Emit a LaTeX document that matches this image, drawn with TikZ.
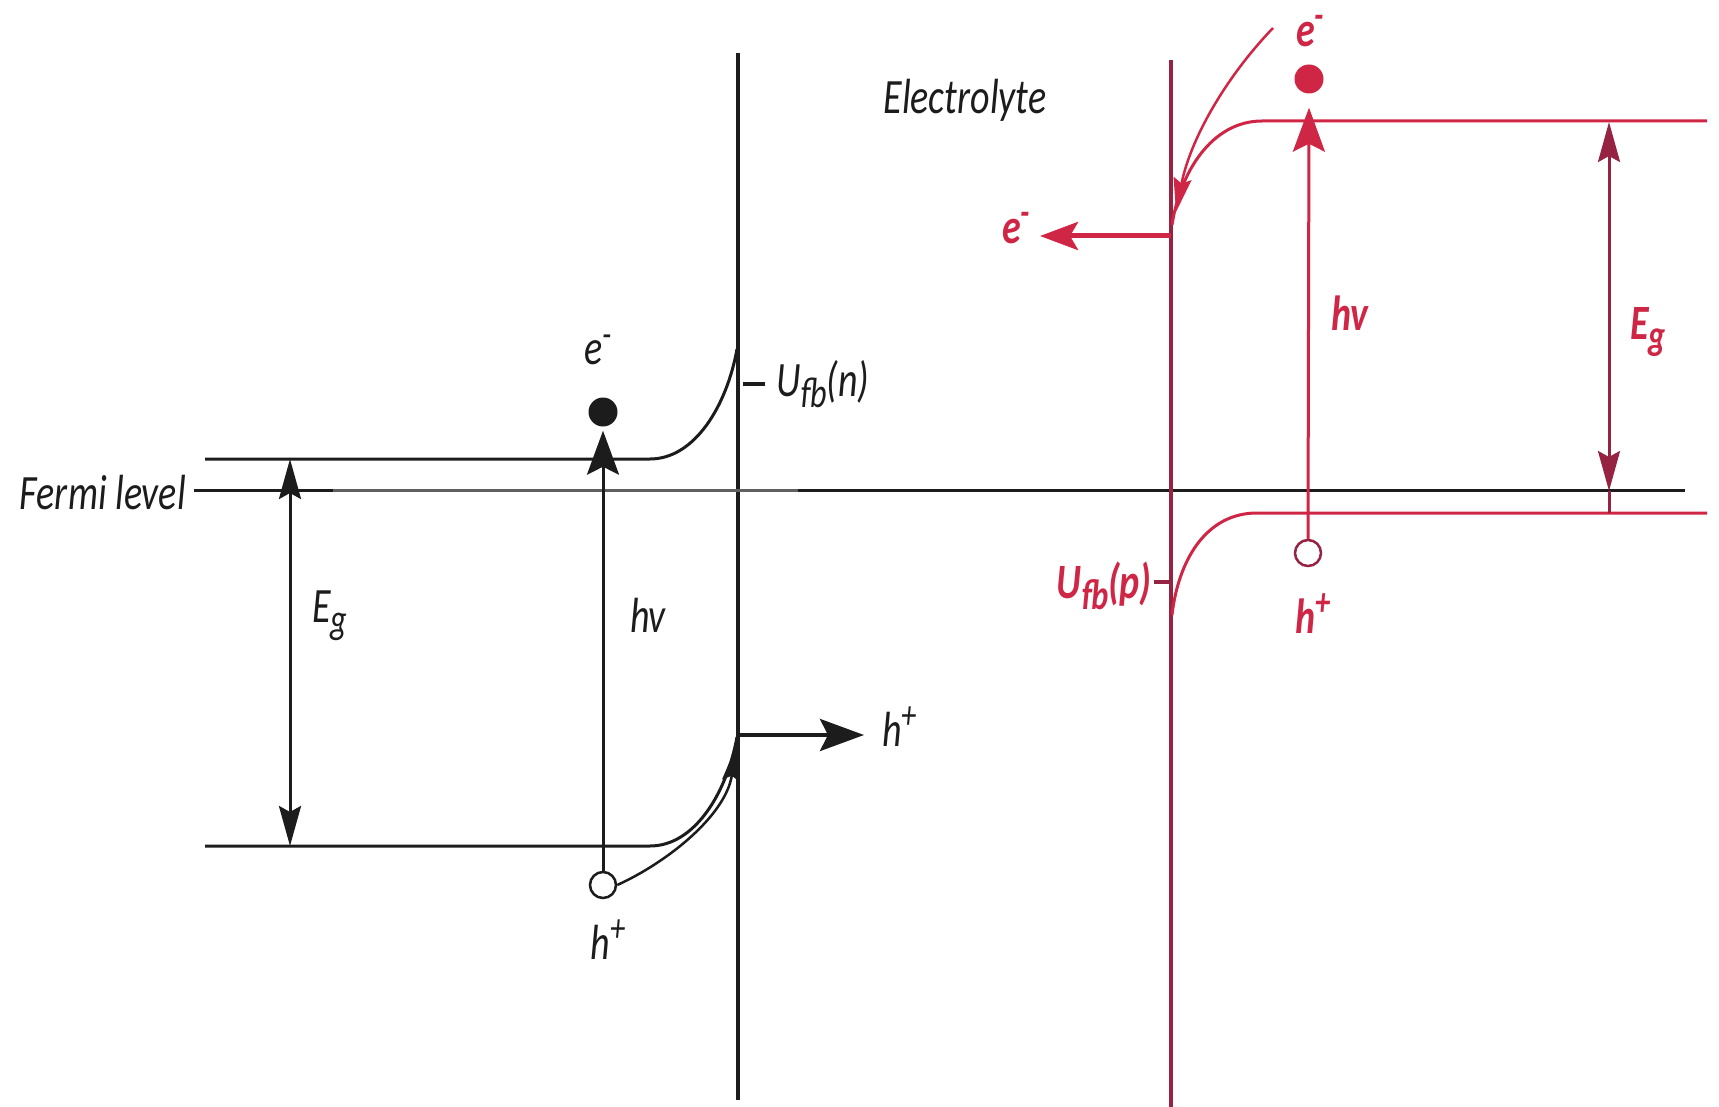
\documentclass[tikz,border=0pt]{standalone}
\usepackage{graphicx}
\usepackage{fontspec}
\setmainfont{Carlito}
\usetikzlibrary{arrows.meta}
\definecolor{cred}{RGB}{208,38,70}
\definecolor{cmaroon}{RGB}{150,35,65}
\definecolor{ink}{RGB}{28,28,28}
\newcommand{\mylo}[1]{\raisebox{-0.45ex}{\scalebox{0.85}{#1}}}
\newcommand{\myhi}[1]{\raisebox{0.75ex}{\scalebox{0.8}{#1}}}
\newcommand{\tx}[1]{\scalebox{1}[1.3]{#1}}
\begin{document}
\begin{tikzpicture}[x=1pt,y=-1pt,
  lbl/.style={font=\fontsize{38}{42}\selectfont\itshape, text=ink, inner sep=0pt},
  rlbl/.style={font=\fontsize{38}{42}\selectfont\bfseries\itshape, text=cred, inner sep=0pt},
  lev/.style={line width=3pt, draw=ink},
  wall/.style={line width=4pt, draw=ink},
  levr/.style={line width=3pt, draw=cred},
  wallr/.style={line width=4pt, draw=cmaroon},
  bigtip/.style={-{Stealth[length=44pt,width=32pt,inset=8pt]}},
  egtips/.style={{Stealth[length=40pt,width=22pt,inset=6pt]}-{Stealth[length=40pt,width=22pt,inset=6pt]}},
  curvtip/.style={-{Stealth[length=34pt,width=18pt,inset=5pt]}},
  dotfill/.style={circle, inner sep=0pt, minimum size=29pt},
  dotopen/.style={circle, inner sep=0pt, minimum size=26pt, line width=2.5pt, fill=white}
]
\useasboundingbox[fill=white] (0,0) rectangle (1719,1107);

% ---------------- left (n-type) ----------------
\coordinate (LwT) at (738,53);
\coordinate (LwB) at (738,1100);
\draw[wall] (LwT) -- (LwB);

\node[lbl, anchor=east] (fermi) at (186,493) {\tx{Fermi level}};
\coordinate (F1) at (333,490);
\coordinate (F2) at (798,490);
\coordinate (F3) at (1685,490);
\draw[lev] ([xshift=8pt]fermi.east |- F1) -- (F1);
\draw[lev, draw=gray!75!black] (F1) -- (F2);
\draw[lev] (F2) -- (F3);

% conduction band (left)
\coordinate (CBL0) at (205,459);
\coordinate (CBL1) at (650,459);
\coordinate (CBL2) at (737,349);
\draw[lev] (CBL0) -- (CBL1) .. controls (695,459) and (727,405) .. (CBL2);

% valence band (left)
\coordinate (VBL0) at (205,846);
\coordinate (VBL1) at (650,846);
\coordinate (VBL2) at (737,737);
\draw[lev] (VBL0) -- (VBL1) .. controls (695,846) and (727,792) .. (VBL2);

% Eg (left)
\coordinate (EgLt) at (290,459);
\coordinate (EgLb) at (290,846);
\draw[lev, egtips] (EgLt) -- (EgLb);
\node[lbl] (EgL) at (330,616) {\tx{E\mylo{g}}};

% hv excitation (left)
\node[dotopen, draw=ink] (hL) at (603,885) {};
\node[dotfill, fill=ink] (eL) at (603,412) {};
\draw[lev, bigtip] (hL.north) -- ([yshift=-4pt]eL.south);
\node[lbl] (eLl) at (598,350) {\tx{e\myhi{-}}};
\node[lbl] (hvL) at (648,615) {\tx{hv}};
\node[lbl] (hLl) at (608,940) {\tx{h\myhi{+}}};

% hole transfer (left)
\coordinate (hcurv) at (736,747);
\draw[line width=2.5pt, draw=ink, curvtip] (hL.east) .. controls (668,862) and (726,815) .. (hcurv);
\coordinate (hout0) at (738,735);
\coordinate (hout1) at (864,735);
\draw[line width=4pt, draw=ink, bigtip] (hout0) -- (hout1);
\node[lbl, anchor=west] (hout) at (882,727) {\tx{h\myhi{+}}};

% flat-band potential (n)
\coordinate (UfnA) at (743,384);
\coordinate (UfnB) at (765,384);
\draw[line width=4pt, draw=ink] (UfnA) -- (UfnB);
\node[lbl, anchor=west] (Ufn) at (776,384) {\tx{U\mylo{fb}(n)}};

% Electrolyte
\node[lbl] (elec) at (965,100) {\tx{Electrolyte}};

% ---------------- right (p-type) ----------------
\coordinate (RwT) at (1171,60);
\coordinate (RwB) at (1171,1107);
\draw[wallr] (RwT) -- (RwB);

% conduction band (right)
\coordinate (CBR0) at (1707,121);
\coordinate (CBR1) at (1262,121);
\coordinate (CBR2) at (1172,225);
\draw[levr] (CBR0) -- (CBR1) .. controls (1212,121) and (1180,172) .. (CBR2);

% valence band (right)
\coordinate (VBR0) at (1707,513);
\coordinate (VBR1) at (1257,513);
\coordinate (VBR2) at (1172,615);
\draw[levr] (VBR0) -- (VBR1) .. controls (1205,513) and (1178,562) .. (VBR2);

% electron out (right)
\coordinate (eout0) at (1171,236);
\coordinate (eout1) at (1040,236);
\draw[line width=5pt, draw=cred, -{Stealth[length=38pt,width=28pt,inset=8pt]}] (eout0) -- (eout1);
\node[rlbl] (eoutl) at (1016,228) {\tx{e\myhi{-}}};

% incoming electron curve
\coordinate (ecurv0) at (1273,28);
\coordinate (ecurv1) at (1176,212);
\draw[line width=2.5pt, draw=cred, curvtip] (ecurv0) .. controls (1225,78) and (1190,140) .. (ecurv1);

% hv excitation (right)
\node[dotopen, draw=cmaroon] (hR) at (1308,553) {};
\node[dotfill, fill=cred] (eR) at (1309,79) {};
\draw[levr, bigtip] (hR.north) -- ([yshift=-14pt]eR.south);
\node[rlbl] (eRl) at (1310,31) {\tx{e\myhi{-}}};
\node[rlbl] (hvR) at (1350,313) {\tx{hv}};
\node[rlbl] (hRl) at (1313,614) {\tx{h\myhi{+}}};

% Eg (right)
\coordinate (EgRt) at (1609,122);
\coordinate (EgRb) at (1609,491);
\coordinate (EgRe) at (1609,513);
\draw[line width=3pt, draw=cmaroon, egtips] (EgRt) -- (EgRb);
\draw[line width=3pt, draw=cmaroon] (EgRb) -- (EgRe);
\node[rlbl] (EgR) at (1648,332) {\tx{E\mylo{g}}};

% flat-band potential (p)
\coordinate (UfpA) at (1154,582);
\coordinate (UfpB) at (1171,582);
\draw[line width=4pt, draw=cmaroon] (UfpA) -- (UfpB);
\node[rlbl, anchor=east] (Ufp) at (1152,586) {\tx{U\mylo{fb}(p)}};
\end{tikzpicture}
\end{document}
